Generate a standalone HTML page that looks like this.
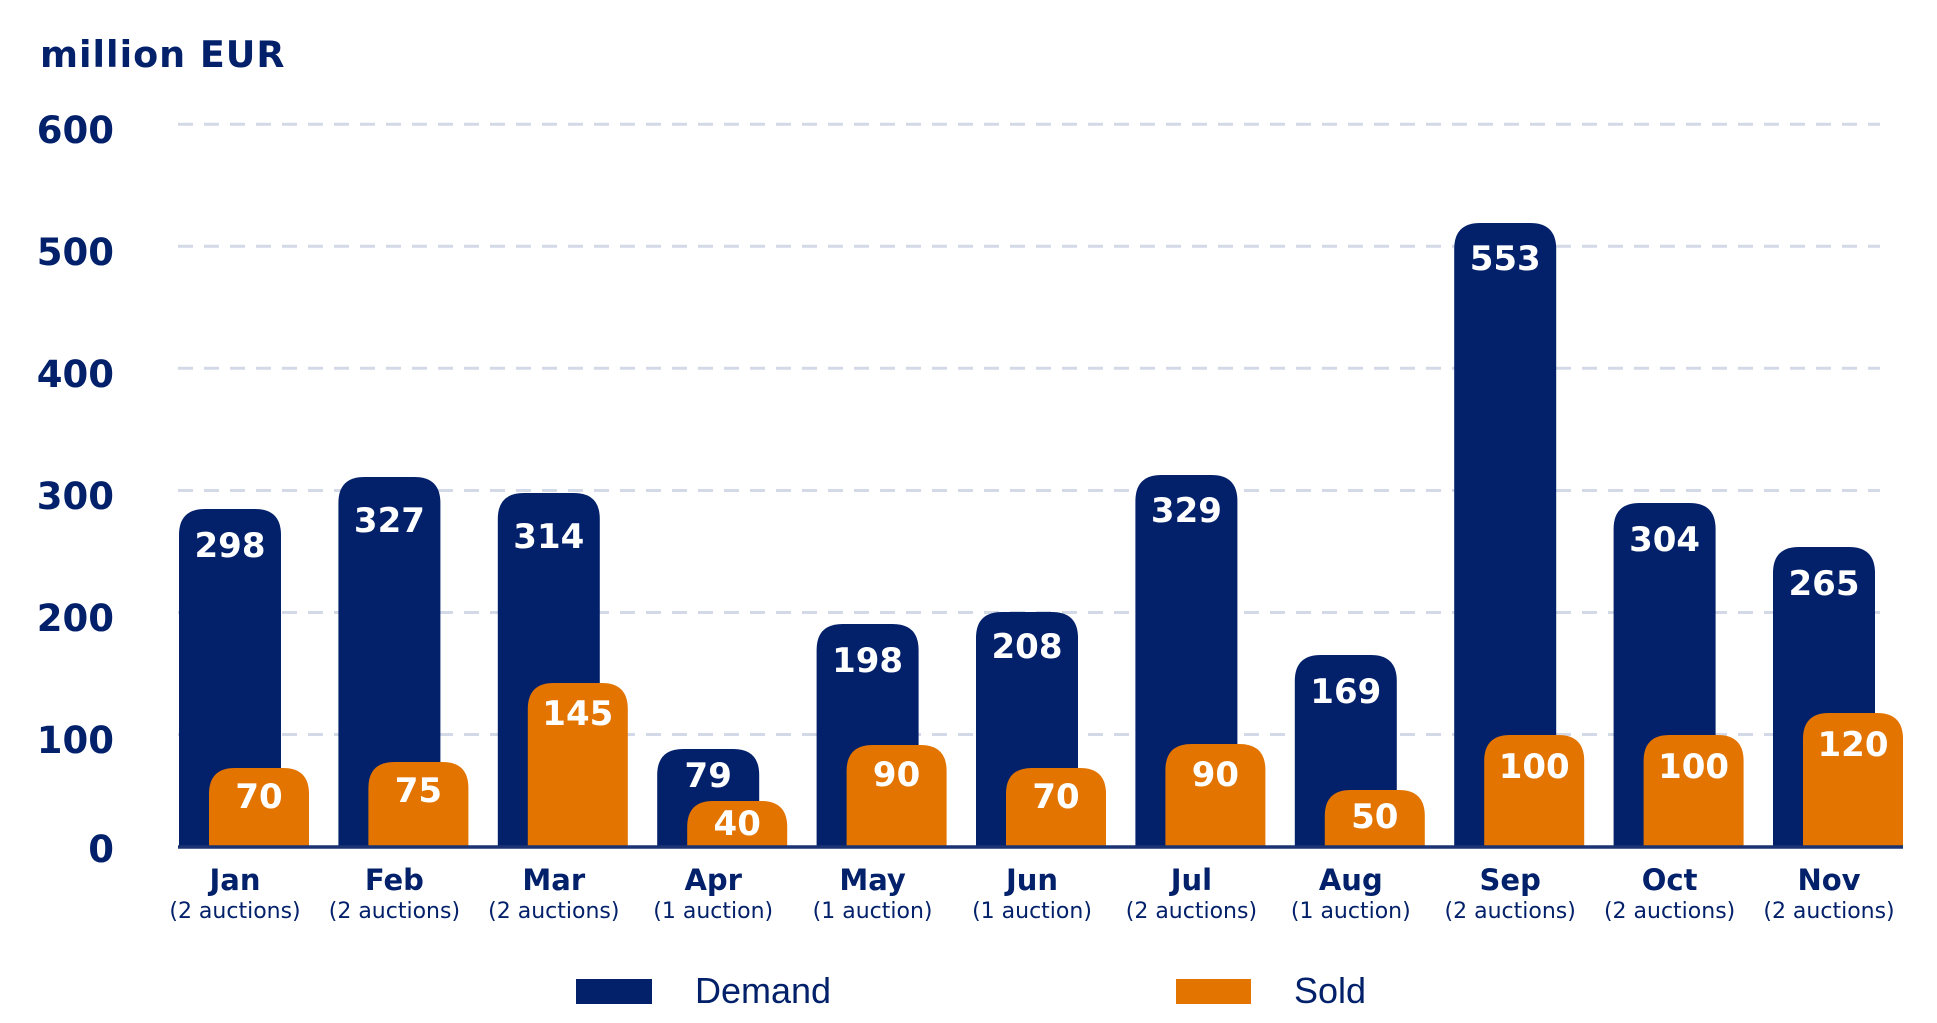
<!DOCTYPE html>
<html><head><meta charset="utf-8"><style>
html,body{margin:0;padding:0;background:#fff;}
svg{display:block;}
text{font-family:"DejaVu Sans","Liberation Sans",sans-serif;}
</style></head><body>
<svg width="1937" height="1023" viewBox="0 0 1937 1023" xmlns="http://www.w3.org/2000/svg">
<text x="40" y="67" font-size="36.5" font-weight="bold" fill="#03216A" letter-spacing="1">million EUR</text>
<g stroke="#D3D9E6" stroke-width="3" stroke-dasharray="15 11">
<line x1="178" y1="124.3" x2="1880" y2="124.3"/>
<line x1="178" y1="246.3" x2="1880" y2="246.3"/>
<line x1="178" y1="368.3" x2="1880" y2="368.3"/>
<line x1="178" y1="490.5" x2="1880" y2="490.5"/>
<line x1="178" y1="612.5" x2="1880" y2="612.5"/>
<line x1="178" y1="734.5" x2="1880" y2="734.5"/>
</g>
<g font-size="37" font-weight="bold" fill="#03216A" text-anchor="end">
<text x="114" y="143">600</text>
<text x="114" y="265">500</text>
<text x="114" y="387">400</text>
<text x="114" y="509">300</text>
<text x="114" y="631">200</text>
<text x="114" y="753">100</text>
<text x="114" y="862">0</text>
</g>
<g id="bars"></g>
<line x1="178" y1="847" x2="1903" y2="847" stroke="#1B3372" stroke-width="3.5"/>
<rect x="576" y="979" width="76" height="25" fill="#03216A"/>
<text x="695" y="1003" font-size="36" fill="#03216A" style="font-family:'Liberation Sans',sans-serif">Demand</text>
<rect x="1176" y="979" width="75" height="25" fill="#E37400"/>
<text x="1294" y="1003" font-size="36" fill="#03216A" style="font-family:'Liberation Sans',sans-serif">Sold</text>
</svg>
<script>
var svg=document.getElementById('bars');
var ns='http://www.w3.org/2000/svg';
var months=['Jan','Feb','Mar','Apr','May','Jun','Jul','Aug','Sep','Oct','Nov'];
var auc=['(2 auctions)','(2 auctions)','(2 auctions)','(1 auction)','(1 auction)','(1 auction)','(2 auctions)','(1 auction)','(2 auctions)','(2 auctions)','(2 auctions)'];
var dv=[298,327,314,79,198,208,329,169,553,304,265];
var sv=[70,75,145,40,90,70,90,50,100,100,120];
var dt=[509,477,493,749,624,612,475,655,223,503,547];
var db=[557,532,548,787,672,658,522,703,270,551,595];
var st=[768,762,683,801,745,768,744,790,735,735,713];
var sb=[808,802,725,835,786,808,786,828,778,778,756];
function path(x,y,w,bot,r,fill){
 var p=document.createElementNS(ns,'path');
 p.setAttribute('d','M'+x+','+bot+'V'+(y+r)+'Q'+x+','+y+' '+(x+r)+','+y+'H'+(x+w-r)+'Q'+(x+w)+','+y+' '+(x+w)+','+(y+r)+'V'+bot+'Z');
 p.setAttribute('fill',fill);svg.appendChild(p);
}
function txt(x,y,s,size,weight,fill){
 var t=document.createElementNS(ns,'text');
 t.setAttribute('x',x);t.setAttribute('y',y);t.setAttribute('font-size',size);
 t.setAttribute('font-weight',weight);t.setAttribute('fill',fill);t.setAttribute('text-anchor','middle');
 t.textContent=s;svg.appendChild(t);
}
for(var i=0;i<11;i++){
 var x=179+i*159.4;
 path(x,dt[i],102,846,26,'#03216A');
 txt(x+51,db[i],String(dv[i]),34,'bold','#fff');
 path(x+30,st[i],100,846,26,'#E37400');
 txt(x+80,sb[i],String(sv[i]),34,'bold','#fff');
 txt(x+56,890,months[i],29,'bold','#03216A');
 txt(x+56,918,auc[i],22,'normal','#03216A');
}
</script>
</body></html>
